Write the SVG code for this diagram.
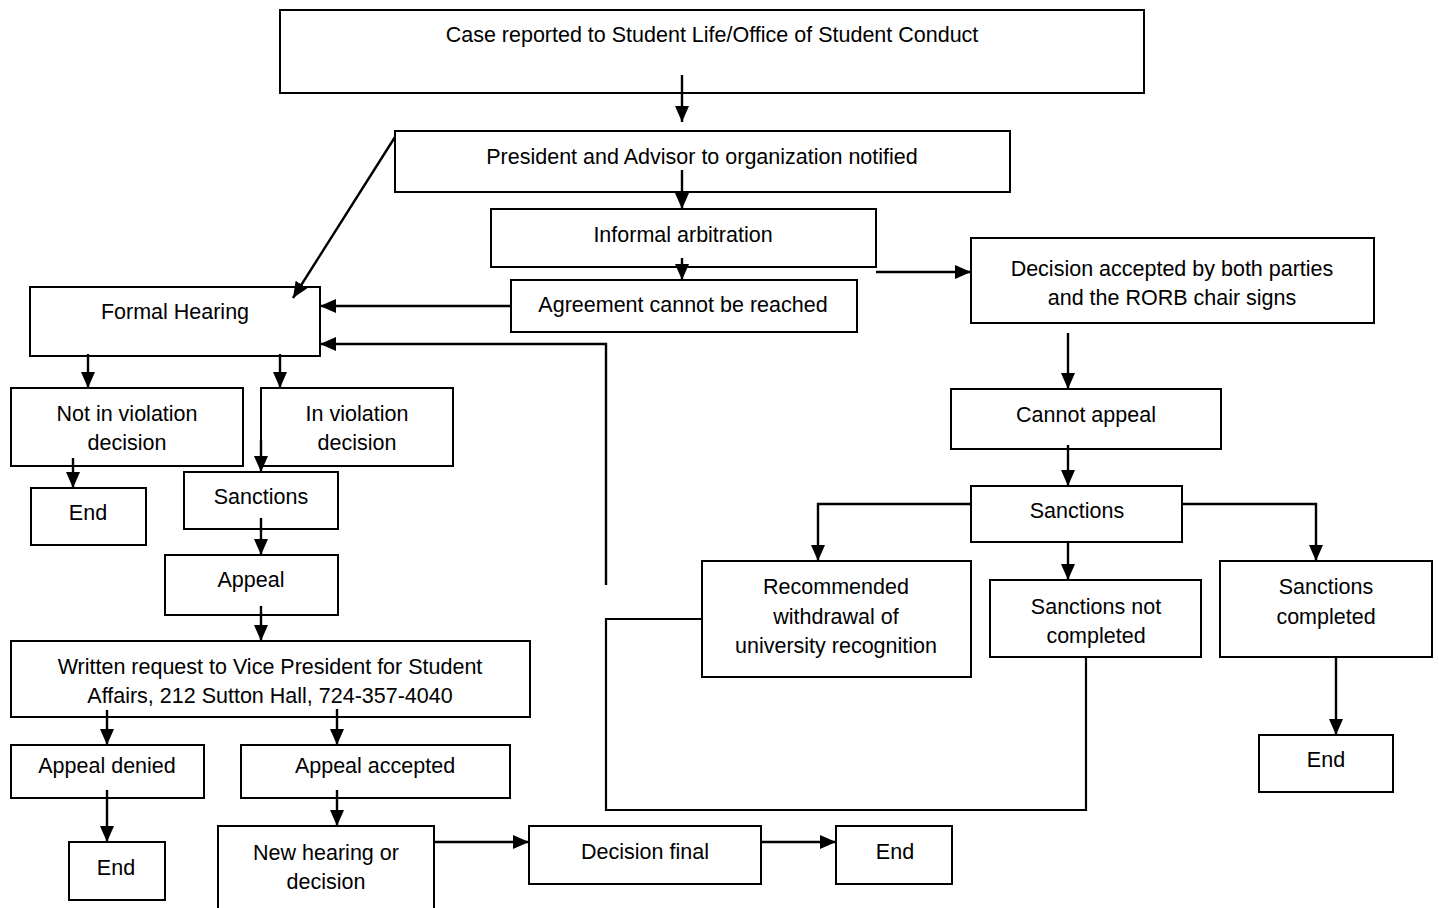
<svg xmlns="http://www.w3.org/2000/svg" width="1439" height="908" viewBox="0 0 1439 908">
<style>
.box{fill:#fff;stroke:#000;stroke-width:2}
.t{font-family:"Liberation Sans",Arial,sans-serif;font-size:21.5px;fill:#000;text-anchor:middle}
.c{fill:none;stroke:#000;stroke-width:2.2}
.a{fill:none;stroke:#000;stroke-width:2.4;marker-end:url(#ah)}
</style>
<defs>
<marker id="ah" markerUnits="userSpaceOnUse" markerWidth="16" markerHeight="14" refX="16" refY="7" orient="auto">
<path d="M0,0 L16,7 L0,14 z" fill="#000"/>
</marker>
</defs>
<rect width="1439" height="908" fill="#fff"/>
<g id="n1"><rect class="box" x="280" y="10" width="864" height="83"/><text class="t" x="712" y="42">Case reported to Student Life/Office of Student Conduct</text></g>
<g id="n2"><rect class="box" x="395" y="131" width="615" height="61"/><text class="t" x="702" y="164">President and Advisor to organization notified</text></g>
<g id="n3"><rect class="box" x="491" y="209" width="385" height="58"/><text class="t" x="683" y="242">Informal arbitration</text></g>
<g id="n4"><rect class="box" x="511" y="280" width="346" height="52"/><text class="t" x="683" y="312">Agreement cannot be reached</text></g>
<g id="n5"><rect class="box" x="30" y="287" width="290" height="69"/><text class="t" x="175" y="319">Formal Hearing</text></g>
<g id="n6"><rect class="box" x="11" y="388" width="232" height="78"/><text class="t" x="127" y="421">Not in violation</text><text class="t" x="127" y="450">decision</text></g>
<g id="n7"><rect class="box" x="261" y="388" width="192" height="78"/><text class="t" x="357" y="421">In violation</text><text class="t" x="357" y="450">decision</text></g>
<g id="n8"><rect class="box" x="31" y="488" width="115" height="57"/><text class="t" x="88" y="520">End</text></g>
<g id="n9"><rect class="box" x="184" y="472" width="154" height="57"/><text class="t" x="261" y="504">Sanctions</text></g>
<g id="n10"><rect class="box" x="165" y="555" width="173" height="60"/><text class="t" x="251" y="587">Appeal</text></g>
<g id="n11"><rect class="box" x="11" y="641" width="519" height="76"/><text class="t" x="270" y="674">Written request to Vice President for Student</text><text class="t" x="270" y="703">Affairs, 212 Sutton Hall, 724-357-4040</text></g>
<g id="n12"><rect class="box" x="11" y="745" width="193" height="53"/><text class="t" x="107" y="773">Appeal denied</text></g>
<g id="n13"><rect class="box" x="241" y="745" width="269" height="53"/><text class="t" x="375" y="773">Appeal accepted</text></g>
<g id="n14"><rect class="box" x="69" y="842" width="96" height="58"/><text class="t" x="116" y="875">End</text></g>
<g id="n15"><rect class="box" x="218" y="826" width="216" height="90"/><text class="t" x="326" y="860">New hearing or</text><text class="t" x="326" y="889">decision</text></g>
<g id="n16"><rect class="box" x="529" y="826" width="232" height="58"/><text class="t" x="645" y="859">Decision final</text></g>
<g id="n17"><rect class="box" x="836" y="826" width="116" height="58"/><text class="t" x="895" y="859">End</text></g>
<g id="n18"><rect class="box" x="971" y="238" width="403" height="85"/><text class="t" x="1172" y="276">Decision accepted by both parties</text><text class="t" x="1172" y="305">and the RORB chair signs</text></g>
<g id="n19"><rect class="box" x="951" y="389" width="270" height="60"/><text class="t" x="1086" y="422">Cannot appeal</text></g>
<g id="n20"><rect class="box" x="971" y="486" width="211" height="56"/><text class="t" x="1077" y="518">Sanctions</text></g>
<g id="n21"><rect class="box" x="702" y="561" width="269" height="116"/><text class="t" x="836" y="594">Recommended</text><text class="t" x="836" y="624">withdrawal of</text><text class="t" x="836" y="653">university recognition</text></g>
<g id="n22"><rect class="box" x="990" y="580" width="211" height="77"/><text class="t" x="1096" y="614">Sanctions not</text><text class="t" x="1096" y="643">completed</text></g>
<g id="n23"><rect class="box" x="1220" y="561" width="212" height="96"/><text class="t" x="1326" y="594">Sanctions</text><text class="t" x="1326" y="624">completed</text></g>
<g id="n24"><rect class="box" x="1259" y="735" width="134" height="57"/><text class="t" x="1326" y="767">End</text></g>
<g id="connectors">
<line class="a" x1="682" y1="75" x2="682" y2="122"/>
<line class="a" x1="682" y1="170" x2="682" y2="209"/>
<line class="a" x1="682" y1="258" x2="682" y2="280"/>
<line class="a" x1="511" y1="306" x2="320" y2="306"/>
<line class="a" x1="395" y1="137" x2="293" y2="298"/>
<polyline class="a" points="606,585 606,344 320,344"/>
<line class="a" x1="88" y1="354" x2="88" y2="388"/>
<line class="a" x1="280" y1="354" x2="280" y2="388"/>
<line class="a" x1="73" y1="458" x2="73" y2="488"/>
<line class="a" x1="261" y1="440" x2="261" y2="472"/>
<line class="a" x1="261" y1="518" x2="261" y2="555"/>
<line class="a" x1="261" y1="606" x2="261" y2="641"/>
<line class="a" x1="107" y1="710" x2="107" y2="745"/>
<line class="a" x1="337" y1="709" x2="337" y2="745"/>
<line class="a" x1="107" y1="790" x2="107" y2="842"/>
<line class="a" x1="337" y1="790" x2="337" y2="826"/>
<line class="a" x1="434" y1="842" x2="529" y2="842"/>
<line class="a" x1="761" y1="842" x2="836" y2="842"/>
<line class="a" x1="876" y1="272" x2="971" y2="272"/>
<line class="a" x1="1068" y1="333" x2="1068" y2="389"/>
<line class="a" x1="1068" y1="445" x2="1068" y2="486"/>
<polyline class="a" points="971,504 818,504 818,561"/>
<line class="a" x1="1068" y1="542" x2="1068" y2="580"/>
<polyline class="a" points="1182,504 1316,504 1316,561"/>
<line class="a" x1="1336" y1="657" x2="1336" y2="735"/>
<polyline class="c" points="702,619 606,619 606,810 1086,810 1086,657"/>
</g>
</svg>
